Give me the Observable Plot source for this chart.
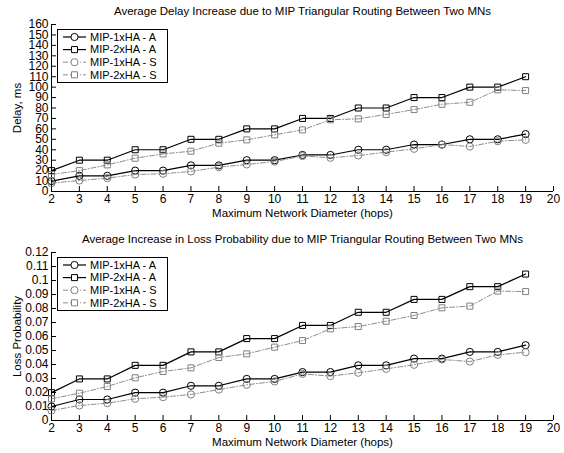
<!DOCTYPE html>
<html><head><meta charset="utf-8">
<script src="https://cdn.jsdelivr.net/npm/d3@7"></script>
<script src="https://cdn.jsdelivr.net/npm/@observablehq/plot@0.6"></script>
<style>body{margin:0;background:#fff} svg{display:block}</style>
</head><body><div id="chart"></div>
<script>
const hops = [2,3,4,5,6,7,8,9,10,11,12,13,14,15,16,17,18,19];
const xTicks = [2,3,4,5,6,7,8,9,10,11,12,13,14,15,16,17,18,19,20];
const seriesNames = ["MIP-1xHA - A","MIP-2xHA - A","MIP-1xHA - S","MIP-2xHA - S"];

const delay1A = [10,15,15,20,20,25,25,30,30,35,35,40,40,45,45,50,50,55];
const delay2A = [20,30,30,40,40,50,50,60,60,70,70,80,80,90,90,100,100,110];
const delay1S = [8,10.5,12.8,16.3,17,19.2,23.3,25.9,28.7,34,32.3,34.5,37.7,40.9,45,43.1,48.2,49.5];
const delay2S = [16.3,20,25.5,31.9,36,38.6,46.3,49.5,54.3,59,68.7,69.6,73.8,78.5,83.6,85.5,97.4,96.7];
const delayTicks = [0,10,20,30,40,50,60,70,80,90,100,110,120,130,140,150,160];

const loss1A = [0.01,0.015,0.015,0.0199,0.0199,0.0248,0.0248,0.0297,0.0297,0.0346,0.0346,0.0394,0.0394,0.0442,0.0442,0.049,0.049,0.0538];
const loss2A = [0.0199,0.0297,0.0297,0.0394,0.0394,0.049,0.049,0.0585,0.0585,0.0679,0.0679,0.0773,0.0773,0.0865,0.0865,0.0956,0.0956,0.1046];
const loss1S = [0.0071,0.0107,0.0124,0.0155,0.0167,0.0186,0.0221,0.0255,0.0279,0.0333,0.0317,0.0341,0.0369,0.0398,0.0436,0.0421,0.0469,0.0488];
const loss2S = [0.0155,0.0195,0.0243,0.0305,0.035,0.0376,0.045,0.0476,0.0524,0.0571,0.0655,0.0671,0.0709,0.075,0.0805,0.0817,0.0924,0.0921];
const lossTicks = [0,0.01,0.02,0.03,0.04,0.05,0.06,0.07,0.08,0.09,0.1,0.11,0.12];

const FONT = "'Liberation Sans', Arial, sans-serif";
const GRAY = "#808080";
const styles = [
  {stroke: "black", dash: null, symbol: "circle", r: 3.6, sw: 1.2},
  {stroke: "black", dash: null, symbol: "square", r: 3.4, sw: 1.2},
  {stroke: GRAY, dash: "5,2,1,2", symbol: "circle", r: 3.6, sw: 0.9},
  {stroke: GRAY, dash: "5,2,1,2", symbol: "square", r: 3.4, sw: 0.9}
];

function makePanel({title, ylabel, yDomain, yTicks, fmt, values, height, marginTop, marginBottom}) {
  const W = 564, mL = 51, mR = 11;
  const frameW = W - mL - mR, frameH = height - marginTop - marginBottom;
  const marks = [
    Plot.ruleX([2], {stroke: "black"}),
    Plot.ruleY([yDomain[0]], {stroke: "black"}),
    Plot.tickY(yTicks, {y: d => d, insetRight: frameW - 5, stroke: "black"}),
    Plot.tickX(xTicks, {x: d => d, insetTop: frameH - 5, stroke: "black"}),
    Plot.axisY({ticks: yTicks, tickSize: 0, tickPadding: 3, tickFormat: fmt, label: null, fontSize: 12}),
    Plot.axisX({ticks: xTicks, tickSize: 0, tickPadding: 3, tickFormat: d => String(d), label: null, fontSize: 12}),
    Plot.text([title], {frameAnchor: "top", dy: -13, lineAnchor: "middle", fontSize: 11.5}),
    Plot.text(["Maximum Network Diameter (hops)"], {frameAnchor: "bottom", dy: 22, lineAnchor: "middle", fontSize: 11.5}),
    Plot.text([ylabel], {frameAnchor: "left", dx: -34, rotate: -90, lineAnchor: "middle", textAnchor: "middle", fontSize: 11.5})
  ];
  values.forEach((vals, i) => {
    const s = styles[i];
    const data = hops.map((h, j) => ({x: h, y: vals[j]}));
    marks.push(Plot.line(data, {x: "x", y: "y", stroke: s.stroke, strokeWidth: s.sw, strokeDasharray: s.dash}));
    marks.push(Plot.dot(data, {x: "x", y: "y", stroke: s.stroke, fill: "none", symbol: s.symbol, r: s.r, strokeWidth: 1}));
  });
  const svg = Plot.plot({
    width: W, height, marginLeft: mL, marginRight: mR, marginTop, marginBottom,
    style: {fontFamily: FONT, fontSize: "11px", color: "black", background: "white"},
    x: {domain: [2, 20]},
    y: {domain: yDomain},
    marks
  });
  // legend
  const g = d3.select(svg).append("g").attr("text-anchor", "start");
  const lx = 57, ly = marginTop + 5, lw = 110, lh = 53;
  g.append("rect").attr("x", lx + 0.5).attr("y", ly + 0.5).attr("width", lw).attr("height", lh)
    .attr("fill", "white").attr("stroke", "black").attr("stroke-width", 1);
  seriesNames.forEach((name, i) => {
    const s = styles[i];
    const cy = ly + 8 + i * 12.6;
    const ln = g.append("line").attr("x1", lx + 6).attr("x2", lx + 29).attr("y1", cy).attr("y2", cy)
      .attr("stroke", s.stroke).attr("stroke-width", s.sw);
    if (s.dash) ln.attr("stroke-dasharray", s.dash);
    const sym = d3.symbol(s.symbol === "circle" ? d3.symbolCircle : d3.symbolSquare, Math.PI * s.r * s.r);
    g.append("path").attr("d", sym()).attr("transform", `translate(${lx + 17.5},${cy})`)
      .attr("fill", "white").attr("stroke", s.stroke);
    g.append("text").attr("x", lx + 33).attr("y", cy).attr("dy", "0.35em").attr("text-anchor", "start")
      .attr("font-family", FONT).attr("font-size", 11).attr("fill", "black").text(name);
  });
  return svg;
}

const root = document.getElementById("chart");
root.append(makePanel({
  title: "Average Delay Increase due to MIP Triangular Routing Between Two MNs",
  ylabel: "Delay, ms",
  yDomain: [0, 160], yTicks: delayTicks, fmt: d => String(d),
  values: [delay1A, delay2A, delay1S, delay2S],
  height: 226, marginTop: 24, marginBottom: 35
}));
root.append(makePanel({
  title: "Average Increase in Loss Probability due to MIP Triangular Routing Between Two MNs",
  ylabel: "Loss Probability",
  yDomain: [0, 0.12], yTicks: lossTicks, fmt: d => String(+d.toFixed(2)),
  values: [loss1A, loss2A, loss1S, loss2S],
  height: 227, marginTop: 26, marginBottom: 33
}));
</script></body></html>
